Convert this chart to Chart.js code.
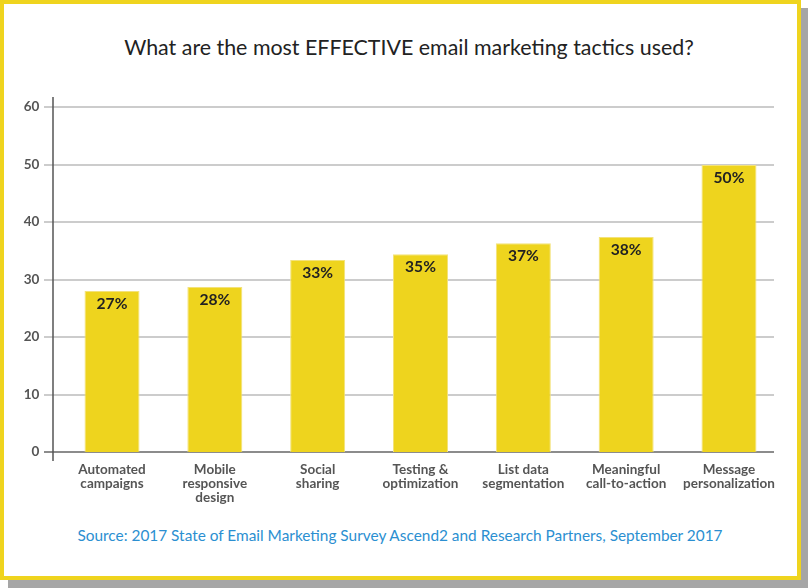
<!DOCTYPE html>
<html>
<head>
<meta charset="utf-8">
<script src="https://cdn.jsdelivr.net/npm/chart.js@4/dist/chart.umd.min.js"></script>
<style>
  body { margin: 0; width: 808px; height: 588px; position: relative; background: #fff; overflow: hidden; font-family: Lato, "Noto Sans", sans-serif; }
  .card { position: absolute; left: 0; top: 0; width: 793px; height: 572px; border: 4px solid #efd41e; background: #fff; box-shadow: 8px 8px 0 #a6a6a6; }
  .title { position: absolute; left: 0; width: 818px; top: 34px; text-align: center; font-size: 21.4px; color: #222; }
  .source { position: absolute; left: 0; width: 800px; top: 526px; text-align: center; font-size: 15.4px; color: #2b8fd1; }
  .wrap { position: absolute; left: 0; top: 0; width: 808px; height: 588px; }
</style>
</head>
<body>
<div class="card"></div>
<div class="title">What are the most EFFECTIVE email marketing tactics used?</div>
<div class="source">Source: 2017 State of Email Marketing Survey Ascend2 and Research Partners, September 2017</div>
<div class="wrap"><canvas id="chart"></canvas></div>
<script>
const categories = [
  ["Automated", "campaigns"],
  ["Mobile", "responsive", "design"],
  ["Social", "sharing"],
  ["Testing &", "optimization"],
  ["List data", "segmentation"],
  ["Meaningful", "call-to-action"],
  ["Message", "personalization"]
];
const values = [28.0, 28.7, 33.4, 34.4, 36.3, 37.4, 49.9];
const valueLabels = ["27%", "28%", "33%", "35%", "37%", "38%", "50%"];
const yTicks = [0, 10, 20, 30, 40, 50, 60];

// the axis line and gridlines sit a bit left of where the bars start
const axisX = 53;
const gridLeft = 44;
const gridRight = 774;

const barLabels = {
  id: "barLabels",
  afterDatasetsDraw(chart) {
    const ctx = chart.ctx;
    const meta = chart.getDatasetMeta(0);
    ctx.save();
    ctx.font = "bold 15.6px Lato, sans-serif";
    ctx.fillStyle = "#222";
    ctx.textAlign = "center";
    ctx.textBaseline = "middle";
    meta.data.forEach((bar, i) => {
      ctx.fillText(valueLabels[i], bar.x, bar.y + 13);
    });
    ctx.restore();
  }
};

const gridAndAxis = {
  id: "gridAndAxis",
  beforeDatasetsDraw(chart) {
    const { ctx, chartArea } = chart;
    const y = chart.scales.y;
    ctx.save();
    ctx.lineWidth = 2;
    yTicks.forEach(v => {
      const py = Math.round(y.getPixelForValue(v));
      ctx.strokeStyle = v === 0 ? "#8c8c8c" : "#cccccc";
      ctx.beginPath();
      ctx.moveTo(gridLeft, py);
      ctx.lineTo(gridRight, py);
      ctx.stroke();
    });
    ctx.strokeStyle = "#555";
    ctx.lineWidth = 1.5;
    ctx.beginPath();
    ctx.moveTo(axisX, chartArea.top - 10);
    ctx.lineTo(axisX, chartArea.bottom + 9);
    ctx.stroke();
    ctx.restore();
  }
};

new Chart(document.getElementById("chart"), {
  type: "bar",
  data: {
    labels: categories,
    datasets: [{
      data: values,
      backgroundColor: "#eed41e",
      borderColor: "#f3e27a",
      borderWidth: 1,
      borderSkipped: "bottom",
      categoryPercentage: 1,
      barPercentage: 0.535
    }]
  },
  options: {
    responsive: true,
    maintainAspectRatio: false,
    animation: false,
    layout: { padding: { top: 107, right: 27.6, left: 0, bottom: 0 } },
    plugins: { legend: { display: false }, tooltip: { enabled: false } },
    scales: {
      x: {
        afterFit: s => { s.height = 136; },
        grid: { display: false },
        border: { display: false },
        ticks: {
          color: "#555",
          font: { family: "Lato, sans-serif", size: 13.5, weight: "bold", lineHeight: 1.04 },
          padding: 3,
          maxRotation: 0,
          autoSkip: false
        }
      },
      y: {
        min: 0,
        max: 60,
        afterFit: s => { s.width = 60.6; },
        afterBuildTicks: s => { s.ticks = yTicks.map(v => ({ value: v })); },
        border: { display: false },
        grid: { display: false, drawTicks: false },
        ticks: {
          color: "#555",
          font: { family: "Lato, sans-serif", size: 13.5, weight: "bold" },
          padding: 21.3
        }
      }
    }
  },
  plugins: [gridAndAxis, barLabels]
});
</script>
</body>
</html>
